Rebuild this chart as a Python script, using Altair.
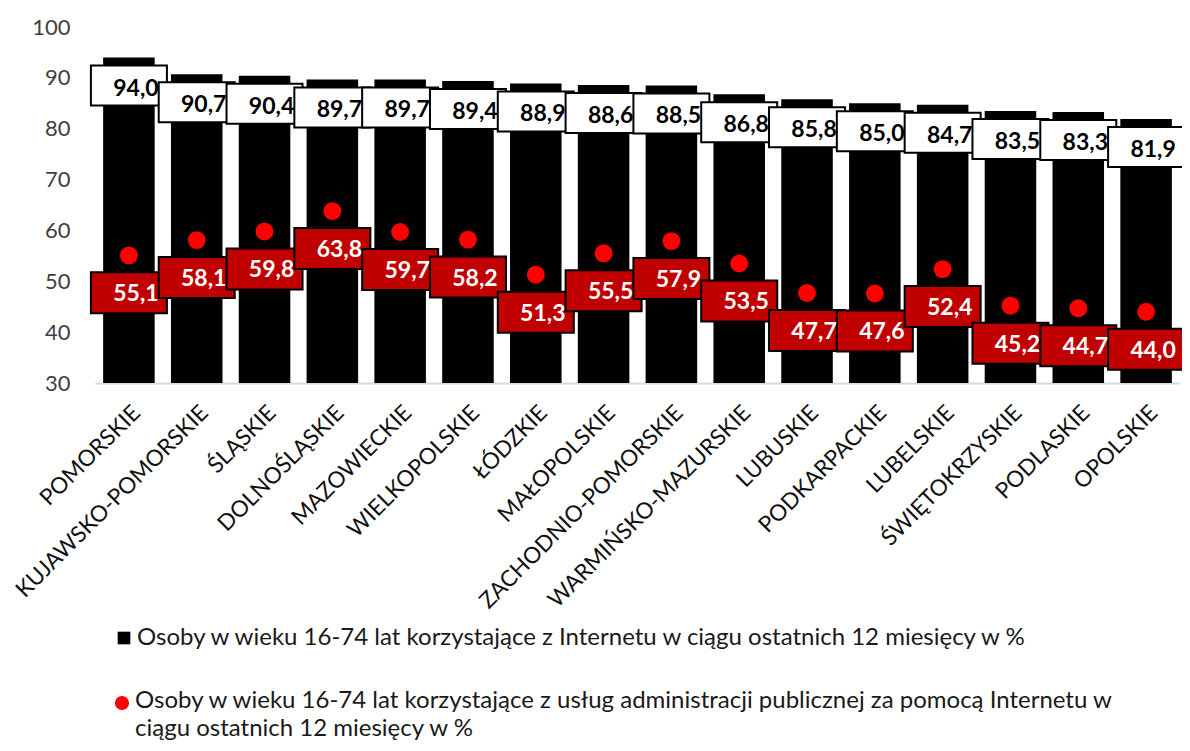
import altair as alt
import pandas as pd

regions = ["POMORSKIE", "KUJAWSKO-POMORSKIE", "ŚLĄSKIE", "DOLNOŚLĄSKIE", "MAZOWIECKIE",
           "WIELKOPOLSKIE", "ŁÓDZKIE", "MAŁOPOLSKIE", "ZACHODNIO-POMORSKIE",
           "WARMIŃSKO-MAZURSKIE", "LUBUSKIE", "PODKARPACKIE", "LUBELSKIE",
           "ŚWIĘTOKRZYSKIE", "PODLASKIE", "OPOLSKIE"]
internet = [94.0, 90.7, 90.4, 89.7, 89.7, 89.4, 88.9, 88.6, 88.5, 86.8, 85.8, 85.0, 84.7, 83.5, 83.3, 81.9]
admin = [55.1, 58.1, 59.8, 63.8, 59.7, 58.2, 51.3, 55.5, 57.9, 53.5, 47.7, 47.6, 52.4, 45.2, 44.7, 44.0]
y_ticks = [30, 40, 50, 60, 70, 80, 90, 100]

s1 = "Osoby w wieku 16-74 lat korzystające z Internetu w ciągu ostatnich 12 miesięcy w %"
s2 = "Osoby w wieku 16-74 lat korzystające z usług administracji publicznej za pomocą Internetu w ciągu ostatnich 12 miesięcy w %"
s2_lines = ["Osoby w wieku 16-74 lat korzystające z usług administracji publicznej za pomocą Internetu w",
            "ciągu ostatnich 12 miesięcy w %"]

df = pd.DataFrame({"region": regions, "internet": internet, "admin": admin})
df["s1"] = s1
df["s2"] = s2

FONT = "Lato"
W, H = 1085, 356
PX = H / 70.0  # pixels per unit

x = alt.X("region:N", sort=regions, title=None,
          scale=alt.Scale(paddingInner=0.24, paddingOuter=0.12),
          axis=alt.Axis(labelAngle=-45, labelFontSize=22.5, labelColor="#111111", labelFont=FONT,
                        ticks=False, domainColor="#d9d9d9", domainWidth=2, labelPadding=18,
                        labelLimit=400))
yscale = alt.Scale(domain=[30, 100], nice=False, zero=False)
yaxis = alt.Axis(values=y_ticks, grid=False, domain=False, ticks=False,
                 labelFontSize=22, labelColor="#404040", labelFont=FONT, labelPadding=25)


def Y(field):
    return alt.Y(field, scale=yscale, axis=yaxis, title=None)


base = alt.Chart(df)

bars = base.mark_bar(color="black").encode(
    x=x,
    y=Y("internet:Q"),
    y2=alt.datum(30),
    color=alt.Color("s1:N", scale=alt.Scale(domain=[s1], range=["black"]),
                    legend=alt.Legend(title=None, orient="none", legendX=17, legendY=599,
                                      symbolType="square", symbolSize=160, labelFontSize=24,
                                      labelFont=FONT, labelColor="#1a1a1a", labelLimit=0,
                                      labelOffset=1, padding=0)),
)

wbox = base.transform_calculate(
    top=f"datum.internet - {8 / PX}", bot=f"datum.internet - {48 / PX}"
).mark_bar(width=76, fill="white", stroke="black", strokeWidth=2).encode(
    x=x, y=Y("top:Q"), y2="bot:Q")

wtext = base.transform_calculate(
    ty=f"datum.internet - {31 / PX}",
    lbl="replace(format(datum.internet, '.1f'), '.', ',')"
).mark_text(fontSize=23, fontWeight="bold", font=FONT, color="black", dx=7, baseline="middle").encode(
    x=x, y=Y("ty:Q"), text="lbl:N")

dots = base.mark_circle(size=320, opacity=1).encode(
    x=x, y=Y("admin:Q"),
    color=alt.Color("s2:N", scale=alt.Scale(domain=[s2], range=["#ff0000"]),
                    legend=alt.Legend(title=s2_lines, titleOrient="right", titleFontSize=24,
                                      titleFont=FONT, titleFontWeight="normal", titleColor="#1a1a1a",
                                      titleLineHeight=28, titleLimit=1100, titlePadding=5,
                                      titleBaseline="top",
                                      orient="none", legendX=19, legendY=668,
                                      symbolType="circle", symbolSize=200,
                                      labelExpr="''", labelOffset=0, padding=0)),
)

rbox = base.transform_calculate(
    top=f"datum.admin - {17 / PX}", bot=f"datum.admin - {58 / PX}"
).mark_bar(width=76, fill="#c00000", stroke="black", strokeWidth=2).encode(
    x=x, y=Y("top:Q"), y2="bot:Q")

rtext = base.transform_calculate(
    ty=f"datum.admin - {39 / PX}",
    lbl="replace(format(datum.admin, '.1f'), '.', ',')"
).mark_text(fontSize=23, fontWeight="bold", font=FONT, color="white", dx=7, baseline="middle").encode(
    x=x, y=Y("ty:Q"), text="lbl:N")

chart = alt.layer(bars, wbox, wtext, dots, rbox, rtext).resolve_scale(
    color="independent"
).properties(
    width=W, height=H,
    autosize=alt.AutoSizeParams(type="none"),
    padding={"left": 87, "top": 19, "right": 2, "bottom": 359},
).configure_view(stroke=None)

chart.save("out.html", embed_options={"renderer": "svg", "actions": False})
